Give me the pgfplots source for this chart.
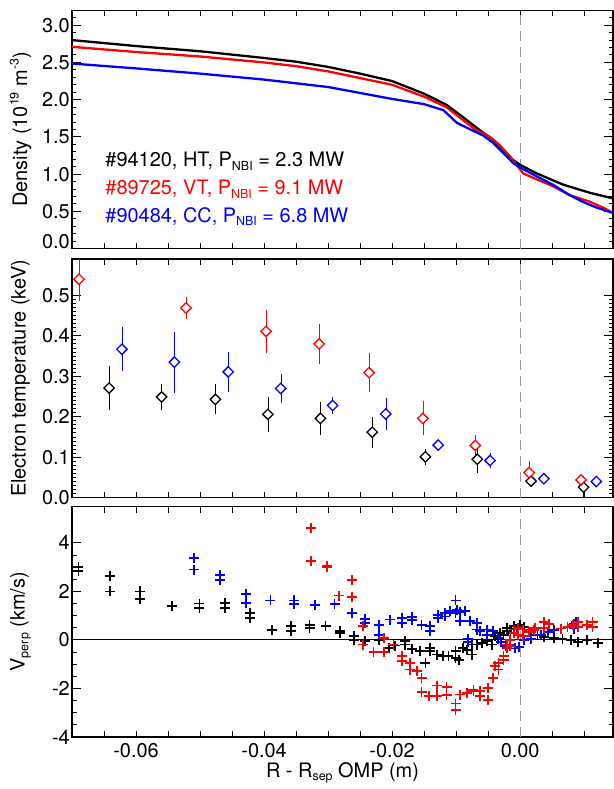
\documentclass[border=0pt]{standalone}
\usepackage{fontspec}
\setmainfont{TeX Gyre Heros}
\usepackage{pgfplots}
\pgfplotsset{compat=1.18}

\newcommand\sub[1]{\raisebox{-0.35ex}{\fontsize{12.5}{13}\selectfont #1}}
\newcommand\super[1]{\raisebox{0.8ex}{\fontsize{12.5}{13}\selectfont #1}}
\newcommand\lbl{\fontsize{20}{23}\selectfont}

\pgfdeclareplotmark{dia}{%
  \pgfpathmoveto{\pgfqpoint{0pt}{\pgfplotmarksize}}%
  \pgfpathlineto{\pgfqpoint{\pgfplotmarksize}{0pt}}%
  \pgfpathlineto{\pgfqpoint{0pt}{-\pgfplotmarksize}}%
  \pgfpathlineto{\pgfqpoint{-\pgfplotmarksize}{0pt}}%
  \pgfpathclose
  \pgfusepathqfillstroke}

\pgfplotsset{
  panel/.style={
    scale only axis, width=541bp,
    xmin=-0.07, xmax=0.0145,
    scaled x ticks=false, scaled y ticks=false,
    xtick={-0.06,-0.04,-0.02,0},
    minor xtick={-0.065,-0.055,-0.05,-0.045,-0.035,-0.03,-0.025,-0.015,-0.01,-0.005,0.005,0.01},
    xtick style={/pgfplots/major tick length=6bp,/pgfplots/minor tick length=6bp},
    ytick style={/pgfplots/major tick length=9bp,/pgfplots/minor tick length=4.5bp},
    tick style={line width=1bp, black},
    axis line style={line width=1.3bp},
    tick label style={font=\lbl},
    label style={font=\lbl},
    /pgf/number format/assume math mode=true,
    yticklabel style={inner sep=2bp},
    ylabel style={at={(axis description cs:-0.095,0.5)}, anchor=center},
  },
  onedec/.style={yticklabel style={/pgf/number format/fixed,
    /pgf/number format/fixed zerofill, /pgf/number format/precision=1}},
  sepline/.style={black!40, line width=1bp, dash pattern=on 10bp off 6bp},
  tmark/.style={only marks, mark=dia, mark size=5.2bp,
    mark options={line width=1.3bp, fill=white, draw=#1, solid},
    color=#1, line width=1.3bp,
    error bars/y dir=both, error bars/y explicit, error bars/error mark=none},
  vmark/.style={only marks, mark=+, mark size=5bp, line width=1.8bp,
    mark options={line width=1.8bp}},
}

\begin{document}
\begin{tikzpicture}
\useasboundingbox (-72bp,-52bp) rectangle (542bp,737bp);

% ---------- density ----------
\begin{axis}[panel, onedec, at={(0,488.3bp)}, height=238.4bp,
  ymin=0, ymax=3.2, ytick={0.5,1,...,3}, minor ytick={0.1,0.2,...,3.1},
  extra y ticks={0}, extra y tick style={yticklabel style={/tikz/yshift=7bp}},
  xticklabels={},
  ylabel={Density (10\super{19} m\super{-3})}]
\addplot[sepline] coordinates {(0,0) (0,3.2)};
\addplot[black, line width=2.3bp] coordinates {
 (-0.07,2.80) (-0.06,2.72) (-0.05,2.65) (-0.04,2.56) (-0.035,2.51) (-0.03,2.44)
 (-0.025,2.35) (-0.02,2.25) (-0.015,2.08) (-0.0115,1.93) (-0.009,1.77) (-0.0063,1.59)
 (-0.0042,1.46) (-0.0027,1.33) (-0.0011,1.19) (0,1.125) (0.0026,1.01) (0.0067,0.86)
 (0.0109,0.75) (0.0145,0.675)};
\addplot[red, line width=2.3bp] coordinates {
 (-0.07,2.71) (-0.06,2.64) (-0.05,2.58) (-0.04,2.50) (-0.035,2.45) (-0.03,2.38)
 (-0.025,2.29) (-0.02,2.20) (-0.015,2.04) (-0.0115,1.90) (-0.009,1.73) (-0.007,1.60)
 (-0.0047,1.50) (-0.0032,1.39) (-0.0016,1.24) (-0.0006,1.125) (0.0005,1.01) (0.0026,0.93)
 (0.0051,0.84) (0.0077,0.72) (0.0109,0.63) (0.013,0.55) (0.0145,0.48)};
\addplot[blue, line width=2.3bp] coordinates {
 (-0.07,2.485) (-0.06,2.42) (-0.05,2.35) (-0.04,2.27) (-0.03,2.17) (-0.025,2.09)
 (-0.02,2.01) (-0.015,1.94) (-0.012,1.86) (-0.011,1.78) (-0.0099,1.69) (-0.008,1.61)
 (-0.0058,1.52) (-0.0042,1.42) (-0.0027,1.29) (-0.0011,1.15) (0,1.09) (0.0026,0.97)
 (0.0051,0.86) (0.0077,0.72) (0.0099,0.625) (0.012,0.55) (0.0145,0.48)};
\node[anchor=west, inner sep=0, font=\lbl, text=black] at (axis cs:-0.0648,1.17)
  {\#94120, HT, P\sub{NBI} = 2.3 MW};
\node[anchor=west, inner sep=0, font=\lbl, text=red] at (axis cs:-0.0648,0.80)
  {\#89725, VT, P\sub{NBI} = 9.1 MW};
\node[anchor=west, inner sep=0, font=\lbl, text=blue] at (axis cs:-0.0648,0.43)
  {\#90484, CC, P\sub{NBI} = 6.8 MW};
\end{axis}

% ---------- electron temperature ----------
\begin{axis}[panel, onedec, at={(0,239.3bp)}, height=238.7bp,
  ymin=0, ymax=0.59, ytick={0,0.1,...,0.5}, minor y tick num=9,
  xticklabels={},
  ylabel={Electron temperature (keV)}]
\addplot[sepline] coordinates {(0,0) (0,0.59)};
\addplot[tmark=black] coordinates {
 (-0.0642,0.271) +- (0,0.055)
 (-0.0560,0.249) +- (0,0.033)
 (-0.0476,0.243) +- (0,0.037)
 (-0.0394,0.206) +- (0,0.044)
 (-0.0312,0.196) +- (0,0.040)
 (-0.0231,0.162) +- (0,0.038)
 (-0.0148,0.101) +- (0,0.019)
 (-0.0067,0.095) +- (0,0.034)
 (0.0017,0.041) +- (0,0.011)
 (0.0099,0.026) +- (0,0.028)};
\addplot[tmark=red] coordinates {
 (-0.0689,0.540) +- (0,0.055)
 (-0.0522,0.469) +- (0,0.027)
 (-0.0397,0.411) +- (0,0.053)
 (-0.0314,0.380) +- (0,0.050)
 (-0.0236,0.309) +- (0,0.048)
 (-0.0152,0.196) +- (0,0.042)
 (-0.0070,0.129) +- (0,0.027)
 (0.0014,0.062) +- (0,0.029)
 (0.0095,0.044) +- (0,0.008)};
\addplot[tmark=blue] coordinates {
 (-0.0706,0.386) +- (0,0.050)
 (-0.0622,0.367) +- (0,0.054)
 (-0.0540,0.335) +- (0,0.075)
 (-0.0456,0.311) +- (0,0.049)
 (-0.0374,0.270) +- (0,0.035)
 (-0.0293,0.228) +- (0,0.022)
 (-0.0210,0.207) +- (0,0.040)
 (-0.0128,0.130) +- (0,0.010)
 (-0.0047,0.092) +- (0,0.018)
 (0.0037,0.047) +- (0,0.005)
 (0.0119,0.040) +- (0,0.005)};
\end{axis}

% ---------- perpendicular velocity ----------
\begin{axis}[panel, at={(0,0)}, height=230.5bp,
  ymin=-4, ymax=5.5, ytick={-4,-2,...,4}, minor y tick num=3,
  xticklabels={-0.06,-0.04,-0.02,0.00},
  xticklabel style={yshift=-3bp},
  xlabel={R - R\sub{sep} OMP (m)},
  xlabel style={at={(axis description cs:0.5,-0.156)}, anchor=center},
  ylabel={V\sub{perp} (km/s)}]
\addplot[sepline] coordinates {(0,-4) (0,5.5)};
\addplot[black, line width=1bp] coordinates {(-0.07,0) (0.0145,0)};
\addplot[vmark, black] coordinates {
 (-0.0690,3.00) (-0.0690,2.83) (-0.0641,2.62) (-0.0641,2.00) (-0.0594,2.00) (-0.0594,1.70)
 (-0.0544,1.39) (-0.0501,1.50) (-0.0501,1.32) (-0.0461,1.52) (-0.0461,1.32)
 (-0.0422,1.11) (-0.0422,0.91) (-0.0388,0.40) (-0.0358,0.56) (-0.0358,0.38)
 (-0.0329,0.63) (-0.0329,0.49) (-0.0304,0.56) (-0.0281,0.36) (-0.0281,0.29)
 (-0.0260,0.15) (-0.0260,0.01) (-0.0242,-0.05) (-0.0221,0.01) (-0.0205,-0.33)
 (-0.0195,-0.23) (-0.0180,-0.05) (-0.0180,-0.19) (-0.0169,-0.37) (-0.0156,-0.47)
 (-0.0148,-0.95) (-0.0141,-0.33) (-0.0141,-0.47) (-0.0130,-0.60) (-0.0120,-0.67)
 (-0.0112,-0.67) (-0.0101,-0.74) (-0.0101,-0.47) (-0.0096,-0.81) (-0.0089,-0.33)
 (-0.0083,-0.40) (-0.0075,-0.60) (-0.0075,-0.19) (-0.0068,-0.19) (-0.0060,-0.12)
 (-0.0052,-0.05) (-0.0044,-0.19) (-0.0039,0.15) (-0.0035,0.05) (-0.0031,0.29)
 (-0.0026,0.20) (-0.0021,0.49) (-0.0021,0.36) (-0.0015,0.30) (-0.0010,0.56)
 (-0.0005,0.45) (0.0000,0.63) (0.0006,0.54) (0.0017,0.33) (0.0027,0.19)
 (0.0037,0.12) (0.0053,0.08) (0.0066,0.03) (0.0079,-0.01) (0.0090,-0.08)
 (0.0105,-0.01) (0.0121,-0.11)};
\addplot[vmark, blue] coordinates {
 (-0.0510,3.38) (-0.0510,2.90) (-0.0469,2.69) (-0.0469,2.46) (-0.0428,1.90) (-0.0428,1.52)
 (-0.0390,1.63) (-0.0353,1.63) (-0.0353,1.48) (-0.0320,1.44) (-0.0290,1.47)
 (-0.0263,1.11) (-0.0242,0.87) (-0.0242,0.70) (-0.0221,0.63) (-0.0221,0.22)
 (-0.0203,0.84) (-0.0185,0.91) (-0.0185,0.70) (-0.0169,0.95) (-0.0169,0.81)
 (-0.0154,0.63) (-0.0141,0.56) (-0.0141,0.36) (-0.0128,1.04) (-0.0128,0.91)
 (-0.0117,1.11) (-0.0117,0.97) (-0.0109,1.18) (-0.0101,1.63) (-0.0101,1.11)
 (-0.0099,1.25) (-0.0094,0.77) (-0.0094,1.15) (-0.0086,1.18) (-0.0082,0.05)
 (-0.0082,-0.10) (-0.0078,0.77) (-0.0068,0.70) (-0.0068,0.43) (-0.0063,0.36)
 (-0.0052,0.43) (-0.0052,0.22) (-0.0042,0.36) (-0.0035,0.10) (-0.0030,-0.10)
 (-0.0022,-0.25) (-0.0015,-0.20) (-0.0008,-0.35) (-0.0002,-0.30) (0.0006,-0.01)
 (0.0017,0.05) (0.0032,0.19) (0.0043,0.33) (0.0053,0.40) (0.0064,0.47)
 (0.0074,0.54) (0.0084,0.67) (0.0084,0.47) (0.0087,0.74)};
\addplot[vmark, red] coordinates {
 (-0.0349,5.62) (-0.0327,4.62) (-0.0327,3.24) (-0.0302,3.06) (-0.0302,3.02)
 (-0.0283,1.83) (-0.0263,2.46) (-0.0263,1.76) (-0.0246,0.56) (-0.0246,-0.19)
 (-0.0229,-0.51) (-0.0213,0.08) (-0.0213,-0.51) (-0.0198,-0.19) (-0.0185,-0.67)
 (-0.0185,-0.88) (-0.0172,-0.95) (-0.0172,-1.22) (-0.0161,-1.29) (-0.0154,-1.57)
 (-0.0154,-2.14) (-0.0143,-2.32) (-0.0130,-2.32) (-0.0130,-1.88) (-0.0115,-1.94)
 (-0.0115,-2.28) (-0.0101,-2.62) (-0.0101,-2.90) (-0.0094,-2.25) (-0.0083,-2.18)
 (-0.0073,-2.05) (-0.0073,-2.12) (-0.0063,-2.12) (-0.0063,-2.32) (-0.0050,-1.98)
 (-0.0050,-2.46) (-0.0043,-1.57) (-0.0039,-1.09) (-0.0034,-1.22) (-0.0034,-0.95)
 (-0.0026,-0.81) (-0.0026,-0.67) (-0.0021,-0.33) (-0.0021,-0.19) (-0.0016,-0.26)
 (-0.0016,0.01) (-0.0010,0.29) (-0.0010,0.43) (-0.0003,0.49) (-0.0003,0.22)
 (0.0005,0.43) (0.0005,0.15) (0.0013,0.36) (0.0014,0.33) (0.0022,0.40)
 (0.0023,0.49) (0.0037,0.74) (0.0037,0.49) (0.0045,0.67) (0.0064,0.47)
 (0.0074,0.54) (0.0082,0.63) (0.0090,0.74) (0.0090,0.54) (0.0105,0.60)
 (0.0113,0.74) (0.0113,0.54)};
\end{axis}
\end{tikzpicture}
\end{document}
